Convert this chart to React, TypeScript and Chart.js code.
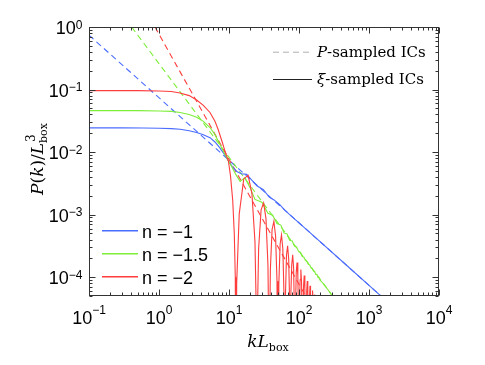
import React, { useEffect, useRef } from "react";
import { Chart, registerables } from "chart.js";

Chart.register(...registerables);

// ---------- data ----------
const seriesLabels = ["n = \u22121", "n = \u22121.5", "n = \u22122"];
const seriesColors = ["#4a6cff", "#7eee3a", "#ff3d3d"];

// P-sampled (power-law) spectra, dashed
const blueDashK = [0.1, 1480];
const blueDashP = [0.74, 5e-5];
const greenDashK = [0.407, 302];
const greenDashP = [1, 5e-5];
const redDashK = [0.877, 124];
const redDashP = [1, 5e-5];

// xi-sampled spectra, solid
const blueSolidK = [0.1, 0.3, 0.6, 1.0, 1.5, 2.0, 2.7, 3.45, 4.3, 5.35, 6.3, 7.4, 8.6, 9.8, 11.2, 12.9, 15, 17.9, 21, 25, 31, 37.5, 44, 53.5, 62.5, 75, 100, 200, 500, 1000, 1520];
const blueSolidP = [0.0244, 0.0244, 0.0243, 0.024, 0.0237, 0.0232, 0.022, 0.0205, 0.019, 0.017, 0.0145, 0.0117, 0.0092, 0.0072, 0.0058, 0.0049, 0.0045, 0.0044, 0.0036, 0.0029, 0.0025, 0.0019, 0.00172, 0.00143, 0.00118, 0.00098, 0.00074, 0.00037, 0.000148, 0.000074, 0.0000487];

const greenSolidK = [0.1, 0.5, 1.0, 1.5, 2.0, 2.7, 3.45, 4.3, 5.35, 6.3, 7.4, 8.6, 9.8, 11, 12.5, 14.4, 16.9, 20, 23.5, 29.5, 36, 42, 48.5, 55, 61, 67.5, 73.5, 80, 86, 92.5, 98.5, 105, 111, 117.5, 123.5, 130, 136, 142.5, 148.5, 155, 161, 167.5, 173.5, 180, 186, 192.5, 198.5, 225, 250, 275, 295];
const greenSolidP = [0.046, 0.046, 0.0455, 0.0447, 0.043, 0.04, 0.036, 0.031, 0.0247, 0.019, 0.0133, 0.0095, 0.0072, 0.0058, 0.0044, 0.0034, 0.0039, 0.0027, 0.00175, 0.00158, 0.00105, 0.00098, 0.00072, 0.00068, 0.00051, 0.00049, 0.00039, 0.00038, 0.000315, 0.000303, 0.000258, 0.000248, 0.000216, 0.000209, 0.000185, 0.000179, 0.000161, 0.000157, 0.000141, 0.000138, 0.000125, 0.000123, 0.000111, 0.000111, 0.0001, 0.0000995, 0.0000905, 0.0000778, 0.0000664, 0.0000576, 0.0000508];

const redSolidK = [
  0.1, 0.5, 1.0, 1.5, 2.0, 2.7, 3.45, 4.3, 5.35, 6.3, 7.0, 8.0, 8.8, 9.8, 10.5, 11.3, 11.9, 12.3, 12.5,
  12.875, 14, 16.25, 18.75, 21.25, 23.5, 24.625, 25,
  25.375, 26.5, 28.75, 31.25, 33.75, 36, 37.125, 37.5,
  37.875, 39, 41.25, 43.75, 46.25, 48.5, 49.625, 50,
  50.375, 51.5, 53.75, 56.25, 58.75, 61, 62.125, 62.5,
  62.875, 64, 66.25, 68.75, 71.25, 73.5, 74.625, 75,
  75.375, 76.5, 78.75, 81.25, 83.75, 86, 87.125, 87.5,
  87.875, 89, 91.25, 93.75, 96.25, 98.5, 99.625, 100,
  100.375, 101.5, 103.75, 106.25, 108.75, 111, 112.125, 112.5,
  112.875, 114, 116.25, 118.75, 121.25, 123.5, 124.625, 125,
  125.375, 126.5, 128.75, 131.25, 133.75, 136, 137.125, 137.5,
  137.875, 139, 141.25, 143.75, 146.25, 148.5, 149.625, 150,
  150.375, 151.5, 153.75, 156.25, 158.75, 161, 162.125, 162.5,
  162.875, 164, 166.25, 168.75, 171.25, 173.5, 174.625, 175,
];
const redSolidP = [
  0.096, 0.096, 0.095, 0.093, 0.088, 0.08, 0.068, 0.056, 0.043, 0.031, 0.023, 0.0145, 0.0102, 0.0072, 0.0042, 0.0017, 0.0005, 0.0001, 1e-7,
  8.0e-5, 1.03e-3, 3.72e-3, 4.27e-3, 2.17e-3, 3.67e-4, 2.2e-5, 1e-7,
  2.07e-5, 2.88e-4, 1.19e-3, 1.54e-3, 8.63e-4, 1.56e-4, 9.7e-6, 1e-7,
  9.3e-6, 1.33e-4, 5.78e-4, 7.84e-4, 4.59e-4, 8.6e-5, 5.4e-6, 1e-7,
  5.3e-6, 7.6e-5, 3.4e-4, 4.74e-4, 2.85e-4, 5.4e-5, 3.5e-6, 1e-7,
  3.4e-6, 4.9e-5, 2.24e-4, 3.17e-4, 1.93e-4, 3.75e-5, 2.4e-6, 1e-7,
  2.3e-6, 3.5e-5, 1.58e-4, 2.27e-4, 1.4e-4, 2.7e-5, 1.8e-6, 1e-7,
  1.7e-6, 2.6e-5, 1.18e-4, 1.71e-4, 1.06e-4, 2.1e-5, 1.3e-6, 1e-7,
  1.3e-6, 1.97e-5, 9.1e-5, 1.33e-4, 8.3e-5, 1.65e-5, 1.1e-6, 1e-7,
  1.0e-6, 1.55e-5, 7.3e-5, 1.06e-4, 6.7e-5, 1.32e-5, 8.6e-7, 1e-7,
  8.5e-7, 1.27e-5, 5.9e-5, 8.7e-5, 5.5e-5, 1.09e-5, 7.1e-7, 1e-7,
  7e-7, 1.05e-5, 4.9e-5, 7.26e-5, 4.6e-5, 9.2e-6, 6e-7, 1e-7,
  5.9e-7, 8.8e-6, 4.16e-5, 6.14e-5, 3.9e-5, 7.8e-6, 5.1e-7, 1e-7,
  5e-7, 7.5e-6, 3.56e-5, 5.27e-5, 3.35e-5, 6.7e-6, 4.4e-7, 1e-7,
];

// axes
const X_MIN = 0.1;
const X_MAX = 1e4;
const Y_MIN = 5e-5;
const Y_MAX = 1;
const xTickExps = [-1, 0, 1, 2, 3, 4];
const yTickExps = [-4, -3, -2, -1, 0];

const styleLabels = ["P", "\u03BE"];
const styleSuffix = "-sampled ICs";

// ---------- drawing helpers ----------
const SANS = '"Liberation Sans", Arial, Helvetica, sans-serif';
const SERIF = '"DejaVu Serif", "Liberation Serif", serif';

type Run = { t: string; f: string; dy: number; adv?: boolean; dx?: number };

function drawRuns(ctx: CanvasRenderingContext2D, runs: Run[], x: number, y: number, align: "left" | "center" | "right") {
  let total = 0;
  const widths = runs.map((r) => {
    ctx.font = r.f;
    const w = ctx.measureText(r.t).width;
    if (r.adv !== false) total += w + (r.dx || 0);
    return w;
  });
  let cx = align === "left" ? x : align === "center" ? x - total / 2 : x - total;
  runs.forEach((r, i) => {
    ctx.font = r.f;
    ctx.fillText(r.t, cx + (r.adv === false ? (r.dx || 0) : 0), y + r.dy);
    if (r.adv !== false) cx += widths[i] + (r.dx || 0);
  });
}

function powRuns(e: number, baseFont: string, expFont: string, expDy: number): Run[] {
  const exp = e < 0 ? "\u2212" + -e : String(e);
  return [
    { t: "10", f: baseFont, dy: 0 },
    { t: exp, f: expFont, dy: expDy },
  ];
}

const decorPlugin = {
  id: "decor",
  afterDraw(chart: any) {
    const ctx: CanvasRenderingContext2D = chart.ctx;
    const area = chart.chartArea;
    const xs = chart.scales.x;
    const ys = chart.scales.y;
    ctx.save();

    const L = Math.round(area.left) + 0.5;
    const R = Math.round(area.right) - 0.5;
    const T = Math.round(area.top) + 0.5;
    const B = Math.round(area.bottom) - 0.5;

    // frame
    ctx.strokeStyle = "#333";
    ctx.lineWidth = 1;
    ctx.setLineDash([]);
    ctx.strokeRect(L, T, R - L, B - T);

    // ticks (major + minor), inward on all four sides
    ctx.beginPath();
    for (let e = -5; e <= 4; e++) {
      for (let s = 1; s <= 9; s++) {
        const v = s * Math.pow(10, e);
        const len = s === 1 ? 6 : 3;
        if (v >= X_MIN * 0.999 && v <= X_MAX * 1.001) {
          const px = Math.round(xs.getPixelForValue(v)) + 0.5;
          ctx.moveTo(px, B);
          ctx.lineTo(px, B - len);
          ctx.moveTo(px, T);
          ctx.lineTo(px, T + len);
        }
        if (v >= Y_MIN * 0.999 && v <= Y_MAX * 1.001) {
          const py = Math.round(ys.getPixelForValue(v)) + 0.5;
          ctx.moveTo(L, py);
          ctx.lineTo(L + len, py);
          ctx.moveTo(R, py);
          ctx.lineTo(R - len, py);
        }
      }
    }
    ctx.stroke();

    // tick labels
    ctx.fillStyle = "#000";
    ctx.textBaseline = "alphabetic";
    ctx.textAlign = "left";
    const baseF = `18px ${SANS}`;
    const expF = `12px ${SANS}`;
    xTickExps.forEach((e) => {
      const px = xs.getPixelForValue(Math.pow(10, e));
      drawRuns(ctx, powRuns(e, baseF, expF, -10), px, 316, "center");
    });
    yTickExps.forEach((e) => {
      const py = ys.getPixelForValue(Math.pow(10, e));
      drawRuns(ctx, powRuns(e, baseF, expF, -5.5), 74.5, py + 7, "right");
    });

    // axis titles
    const itF = `italic 17px ${SERIF}`;
    const rmF = `17px ${SERIF}`;
    const smF = `11px ${SERIF}`;
    drawRuns(
      ctx,
      [
        { t: "k", f: itF, dy: 0 },
        { t: "L", f: itF, dy: 0 },
        { t: "box", f: smF, dy: 4 },
      ],
      260,
      339,
      "center"
    );
    ctx.save();
    ctx.translate(35, 151);
    ctx.rotate(-Math.PI / 2);
    drawRuns(
      ctx,
      [
        { t: "P", f: itF, dy: 0 },
        { t: "(", f: rmF, dy: 0 },
        { t: "k", f: itF, dy: 0 },
        { t: ")/", f: rmF, dy: 0 },
        { t: "L", f: itF, dy: 0 },
        { t: "3", f: `12px ${SERIF}`, dy: -8, adv: false, dx: 1 },
        { t: "box", f: smF, dy: 4 },
      ],
      0,
      0,
      "center"
    );
    ctx.restore();

    // series legend (bottom-left)
    seriesLabels.forEach((lab, i) => {
      const y = 222.7 + i * 23;
      ctx.strokeStyle = seriesColors[i];
      ctx.lineWidth = 1.6;
      ctx.setLineDash([]);
      ctx.beginPath();
      ctx.moveTo(94, y);
      ctx.lineTo(130, y);
      ctx.stroke();
      ctx.fillStyle = "#000";
      ctx.font = `18px ${SANS}`;
      ctx.fillText(lab, 134, y + 7);
    });

    // style legend (top-right)
    const styleY = [43.7, 71];
    styleLabels.forEach((sym, i) => {
      const y = styleY[i];
      ctx.beginPath();
      if (i === 0) {
        ctx.strokeStyle = "#b0b0b0";
        ctx.setLineDash([6, 4]);
      } else {
        ctx.strokeStyle = "#222";
        ctx.setLineDash([]);
      }
      ctx.lineWidth = 1;
      ctx.moveTo(265, y + 0.5);
      ctx.lineTo(304, y + 0.5);
      ctx.stroke();
      ctx.setLineDash([]);
      ctx.fillStyle = "#000";
      drawRuns(
        ctx,
        [
          { t: sym, f: `italic 15px ${SERIF}`, dy: 0 },
          { t: styleSuffix, f: `15px ${SERIF}`, dy: 0 },
        ],
        309,
        y + 4.8,
        "left"
      );
    });

    ctx.restore();
  },
};

function pts(k: number[], p: number[]) {
  return k.map((x, i) => ({ x, y: p[i] }));
}

export default function App() {
  const ref = useRef<HTMLCanvasElement | null>(null);
  useEffect(() => {
    if (!ref.current) return;
    const solid = (k: number[], p: number[], c: string) => ({
      data: pts(k, p),
      borderColor: c,
      borderWidth: 1.1,
      pointRadius: 0,
      fill: false,
      tension: 0,
    });
    const dashed = (k: number[], p: number[], c: string) => ({
      data: pts(k, p),
      borderColor: c,
      borderWidth: 1.1,
      borderDash: [6, 4],
      pointRadius: 0,
      fill: false,
      tension: 0,
    });
    const chart = new Chart(ref.current, {
      type: "line",
      data: {
        datasets: [
          solid(redSolidK, redSolidP, seriesColors[2]),
          solid(greenSolidK, greenSolidP, seriesColors[1]),
          solid(blueSolidK, blueSolidP, seriesColors[0]),
          dashed(redDashK, redDashP, seriesColors[2]),
          dashed(greenDashK, greenDashP, seriesColors[1]),
          dashed(blueDashK, blueDashP, seriesColors[0]),
        ] as any,
      },
      options: {
        responsive: false,
        animation: false,
        devicePixelRatio: 1,
        layout: { padding: { left: 81, right: 38, top: 19, bottom: 61 } },
        plugins: { legend: { display: false }, tooltip: { enabled: false } },
        scales: {
          x: { type: "logarithmic", min: X_MIN, max: X_MAX, display: false },
          y: { type: "logarithmic", min: Y_MIN, max: Y_MAX, display: false },
        },
      } as any,
      plugins: [decorPlugin],
    });
    return () => chart.destroy();
  }, []);
  return (
    <div style={{ width: 469, height: 349 }}>
      <canvas ref={ref} width={469} height={349} style={{ display: "block", width: 469, height: 349 }} />
    </div>
  );
}
